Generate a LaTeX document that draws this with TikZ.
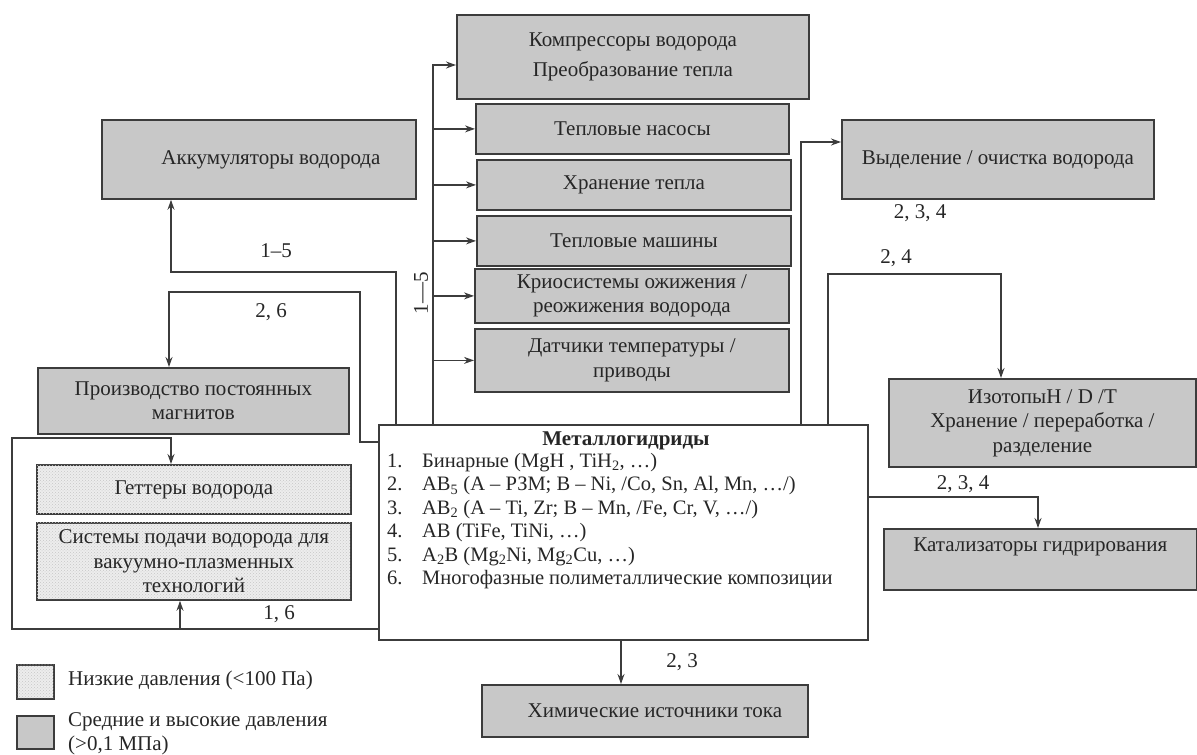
\documentclass[tikz,border=0pt]{standalone}
\usepackage{fontspec}
\setmainfont{Liberation Serif}
\usetikzlibrary{arrows.meta,positioning,patterns}
\definecolor{boxgray}{HTML}{C8C8C8}
\definecolor{lowgray}{HTML}{EDEDED}
\definecolor{edgegray}{HTML}{3C3C3C}
\newcommand{\figfont}{\fontsize{21}{24.5}\selectfont}

\begin{document}
\begin{tikzpicture}[x=1pt, y=-1pt, font=\figfont,
  hbox/.style={draw=edgegray, fill=boxgray, line width=1.8pt, anchor=north west, inner sep=0pt, align=center, text=black!85},
  lbox/.style={hbox, fill=lowgray, postaction={pattern=crosshatch dots, pattern color=gray!45}},
  wire/.style={draw=edgegray, line width=1.3pt},
  arr/.style={wire, -{Stealth[length=10pt, width=7pt]}},
  tag/.style={text=black!85}]
  \useasboundingbox (0,0) rectangle (1197,755);

  % central box
  \node[hbox, fill=white, minimum width=489, minimum height=215] (mh) at (378,424) {};
  \node[font=\bfseries\figfont, tag] (mhtitle) at (626,441) {Металлогидриды};
  \node[anchor=north west, align=left, inner sep=0pt, tag, font=\fontsize{20.5}{23.5}\selectfont] (mhlist) at (387,453) {%
    \makebox[35pt][l]{1.}Бинарные (MgH , TiH\textsubscript{2}, …)\\
    \makebox[35pt][l]{2.}AB\textsubscript{5} (A – РЗМ; B – Ni, /Co, Sn, Al, Mn, …/)\\
    \makebox[35pt][l]{3.}AB\textsubscript{2} (A – Ti, Zr; B – Mn, /Fe, Cr, V, …/)\\
    \makebox[35pt][l]{4.}AB (TiFe, TiNi, …)\\
    \makebox[35pt][l]{5.}A\textsubscript{2}B (Mg\textsubscript{2}Ni, Mg\textsubscript{2}Cu, …)\\
    \makebox[35pt][l]{6.}Многофазные полиметаллические композиции};

  % heat column
  \node[hbox, minimum width=352, minimum height=84] (comp) at (456,14) {Компрессоры водорода\\[6pt] Преобразование тепла};
  \node[hbox, minimum width=313, minimum height=50] (pump) at (475,103) {Тепловые насосы};
  \node[hbox, minimum width=314, minimum height=50] (store) at (476,159) {Хранение тепла};
  \node[hbox, minimum width=314, minimum height=50] (mach) at (476,215) {Тепловые машины};
  \node[hbox, minimum width=314, minimum height=54] (cryo) at (474,268) {Криосистемы ожижения /\\ реожижения водорода};
  \node[hbox, minimum width=314, minimum height=63] (sens) at (474,328) {Датчики температуры /\\ приводы};

  % left side
  \node[hbox, minimum width=314, minimum height=79] (acc) at (101,119) {\hspace*{24pt}Аккумуляторы водорода};
  \node[hbox, minimum width=311, minimum height=66] (magn) at (37,367) {Производство постоянных\\ магнитов};
  \node[lbox, minimum width=314, minimum height=49] (gett) at (36,464) {Геттеры водорода};
  \node[lbox, minimum width=314, minimum height=77] (feed) at (36,522) {Системы подачи водорода для\\ вакуумно-плазменных\\ технологий};

  % right side
  \node[hbox, minimum width=312, minimum height=79] (sep) at (841,119) {Выделение / очистка водорода};
  \node[hbox, minimum width=307, minimum height=88] (iso) at (888,378) {ИзотопыH / D /T\\ Хранение / переработка /\\ разделение};
  \node[hbox, minimum width=313, minimum height=61] (cat) at (883,528) {Катализаторы гидрирования\\[6pt]};
  \node[hbox, minimum width=326, minimum height=52] (chem) at (481,684) {\hspace*{20pt}Химические источники тока};

  % legend
  \node[lbox, minimum width=37, minimum height=34] (lowkey) at (16,664) {};
  \node[hbox, minimum width=37, minimum height=33] (highkey) at (16,715) {};
  \node[anchor=west, tag, inner sep=0pt] (lowtxt) at (68,680) {Низкие давления (<100 Па)};
  \node[anchor=west, align=left, tag, inner sep=0pt] (hightxt) at (68,734) {Средние и высокие давления\\ (>0,1 МПа)};

  % heat bus
  \coordinate (bus) at (433,65);
  \draw[arr] (mh.north -| bus) -- (bus) -- (bus -| comp.west);
  \foreach \b in {pump,store,mach,cryo,sens}
    \draw[arr] (\b.west -| bus) -- (\b.west);
  \node[rotate=90, tag] (busl) at (421,293) {1—5};

  % to accumulators
  \coordinate (acck1) at (396,272);
  \coordinate (acck2) at (171,272);
  \draw[arr] (mh.north -| acck1) -- (acck1) -- (acck2) -- (acck2 |- acc.south);
  \node[tag] (accl) at (276,251) {1–5};

  % to magnets
  \coordinate (mgk0) at (360,442);
  \coordinate (mgk1) at (360,292);
  \coordinate (mgk2) at (169,292);
  \draw[arr] (mgk0 -| mh.west) -- (mgk0) -- (mgk1) -- (mgk2) -- (mgk2 |- magn.north);
  \node[tag] (magl) at (271,312) {2, 6};

  % low pressure loop
  \coordinate (lp0) at (12,629);
  \coordinate (lp1) at (12,438);
  \coordinate (lp2) at (171,438);
  \coordinate (lp3) at (180,629);
  \draw[arr] (lp0 -| mh.west) -- (lp0) -- (lp1) -- (lp2) -- (lp2 |- gett.north);
  \draw[arr] (lp3) -- (lp3 |- feed.south);
  \node[tag] (lowl) at (279,614) {1, 6};

  % right side links
  \coordinate (spk) at (801,142);
  \draw[arr] (mh.north -| spk) -- (spk) -- (spk -| sep.west);
  \node[tag] (sepl) at (920,213) {2, 3, 4};

  \coordinate (isk1) at (828,274);
  \coordinate (isk2) at (1001,274);
  \draw[arr] (mh.north -| isk1) -- (isk1) -- (isk2) -- (isk2 |- iso.north);
  \node[tag] (isol) at (896,258) {2, 4};

  \coordinate (ctk) at (1038,497);
  \draw[arr] (mh.east |- ctk) -- (ctk) -- (ctk |- cat.north);
  \node[tag] (catl) at (963,484) {2, 3, 4};

  \coordinate (chk) at (621,660);
  \draw[arr] (mh.south -| chk) -- (chk |- chem.north);
  \node[tag] (cheml) at (682,662) {2, 3};
\end{tikzpicture}
\end{document}
